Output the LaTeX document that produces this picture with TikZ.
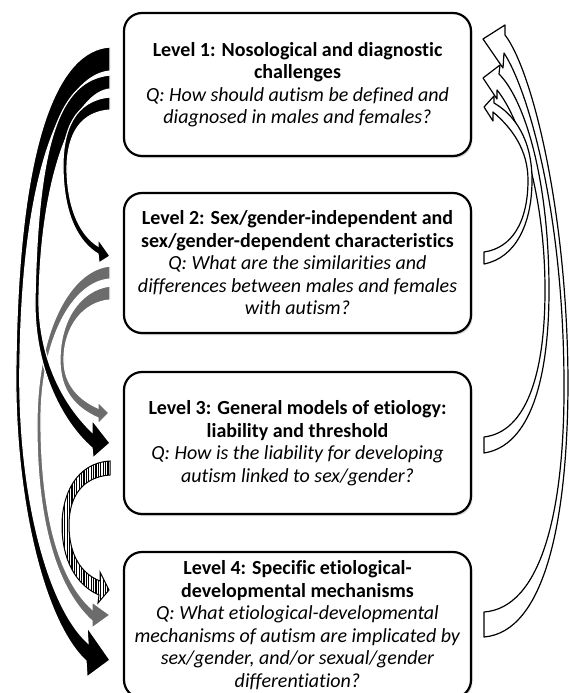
\documentclass[tikz,border=0pt]{standalone}
\usepackage{fontspec}
\setmainfont{Carlito}[Ligatures=NoCommon]
\usepackage{xcolor}
\usetikzlibrary{positioning}
\usetikzlibrary{shadows}
\usetikzlibrary{patterns.meta}

\definecolor{arrowgray}{RGB}{108,108,108}

\tikzset{
  levelbox/.style={rectangle, rounded corners=18pt, draw=black, line width=2.2pt,
    fill=white, minimum width=347pt, align=center, outer sep=0pt, inner sep=4pt,
    font=\fontsize{20}{22.5}\selectfont,
    drop shadow={shadow xshift=1.5pt, shadow yshift=-2pt, opacity=0.3}},
  solidarrow/.style={fill=black, draw=white, line width=1.2pt},
  grayarrow/.style={fill=arrowgray, draw=white, line width=1.2pt},
  hatcharrow/.style={draw=black, line width=1pt, preaction={fill=white},
    pattern={Lines[angle=90, distance=2.4pt, line width=1.2pt]}},
  openarrow/.style={draw=black, line width=1.2pt, fill=white, line join=round}
}

\begin{document}
\begin{tikzpicture}[x=1pt, y=-1pt]
    \useasboundingbox (0,0) rectangle (569,693);

    % Define nodes
    \node[levelbox, minimum height=143pt] (l1) at (297.5,84.5)
      {\textbf{Level 1: Nosological and diagnostic}\\ \textbf{challenges}\\
       \textit{Q: How should autism be defined and}\\ \textit{diagnosed in males and females?}};
    \node[levelbox, minimum height=140pt, below=37pt of l1] (l2)
      {\textbf{Level 2: Sex/gender-independent and}\\ \textbf{sex/gender-dependent characteristics}\\
       \textit{Q: What are the similarities and}\\ \textit{differences between males and females}\\
       \textit{with autism?}};
    \node[levelbox, minimum height=142pt, below=39pt of l2] (l3)
      {\textbf{Level 3: General models of etiology:}\\ \textbf{liability and threshold}\\
       \textit{Q: How is the liability for developing}\\ \textit{autism linked to sex/gender?}};
    \node[levelbox, minimum height=146pt, below=38pt of l3] (l4)
      {\textbf{Level 4: Specific etiological-}\\ \textbf{developmental mechanisms}\\
       \textit{Q: What etiological-developmental}\\ \textit{mechanisms of autism are implicated by}\\
       \textit{sex/gender, and/or sexual/gender}\\ \textit{differentiation?}};

    % Connect the nodes (left side, downwards)
    \filldraw[solidarrow] (110,47) .. controls (58,50) and (19,140) .. (16,360)
      .. controls (13,490) and (42,620) .. (86,661) -- (87,677) -- (110,660) -- (87,627)
      -- (88,643) .. controls (47,606) and (17,490) .. (20,360)
      .. controls (23,160) and (66,75) .. (110,71) -- cycle;
    \filldraw[grayarrow] (110,286) .. controls (80,290) and (60,320) .. (60,360)
      .. controls (60,392) and (76,408) .. (98,418) -- (98,424) -- (109,413) -- (98,402)
      -- (98,408) .. controls (80,400) and (64,385) .. (64,360)
      .. controls (64,326) and (84,302) .. (110,300) -- cycle;
    \filldraw[grayarrow] (110,266) .. controls (70,270) and (38,330) .. (37,420)
      .. controls (36,525) and (58,590) .. (92,621) -- (92,628) -- (110,615) -- (92,602)
      -- (92,609) .. controls (62,582) and (41,522) .. (41,420)
      .. controls (41,340) and (72,282) .. (110,279) -- cycle;
    \filldraw[solidarrow] (110,75) .. controls (60,80) and (38,140) .. (35,300)
      .. controls (34,365) and (60,420) .. (92,448) -- (93,458) -- (110,443) -- (92,420)
      -- (92,432) .. controls (64,405) and (39,360) .. (39,300)
      .. controls (41,170) and (76,92) .. (110,89) -- cycle;
    \filldraw[solidarrow] (110,97) .. controls (75,100) and (62,130) .. (63,170)
      .. controls (64,215) and (78,242) .. (98,254) -- (99,263) -- (110,256) -- (98,239)
      -- (98,246) .. controls (82,236) and (68,212) .. (67,170)
      .. controls (67,132) and (82,112) .. (110,110) -- cycle;
    \filldraw[hatcharrow] (110,461) .. controls (76,463) and (62,495) .. (62,525)
      .. controls (62,560) and (76,585) .. (99,595) -- (98,603) -- (109,590) -- (100,572)
      -- (100,581) .. controls (82,574) and (69,556) .. (69,525)
      .. controls (69,497) and (82,477) .. (110,475) -- cycle;

    % Connect the nodes (right side, upwards)
    \filldraw[openarrow] (484,637) .. controls (545,632) and (568,520) .. (568,380)
      .. controls (567,210) and (532,70) .. (505,35) -- (505,25) -- (483,39) -- (503,68)
      -- (504,53) .. controls (528,90) and (563,210) .. (564,380)
      .. controls (565,515) and (540,608) .. (484,612) -- cycle;
    \filldraw[openarrow] (484,453) .. controls (530,446) and (549,380) .. (549,290)
      .. controls (549,180) and (525,100) .. (499,74) -- (500,65) -- (483,78) -- (497,99)
      -- (497,90) .. controls (520,118) and (545,195) .. (545,290)
      .. controls (545,375) and (526,432) .. (484,437) -- cycle;
    \filldraw[openarrow] (484,264) .. controls (515,258) and (532,225) .. (532,180)
      .. controls (532,140) and (515,115) .. (494,103) -- (494,96) -- (484,107) -- (493,121)
      -- (493,112) .. controls (512,128) and (528,150) .. (528,180)
      .. controls (528,222) and (512,248) .. (484,252) -- cycle;

\end{tikzpicture}
\end{document}
